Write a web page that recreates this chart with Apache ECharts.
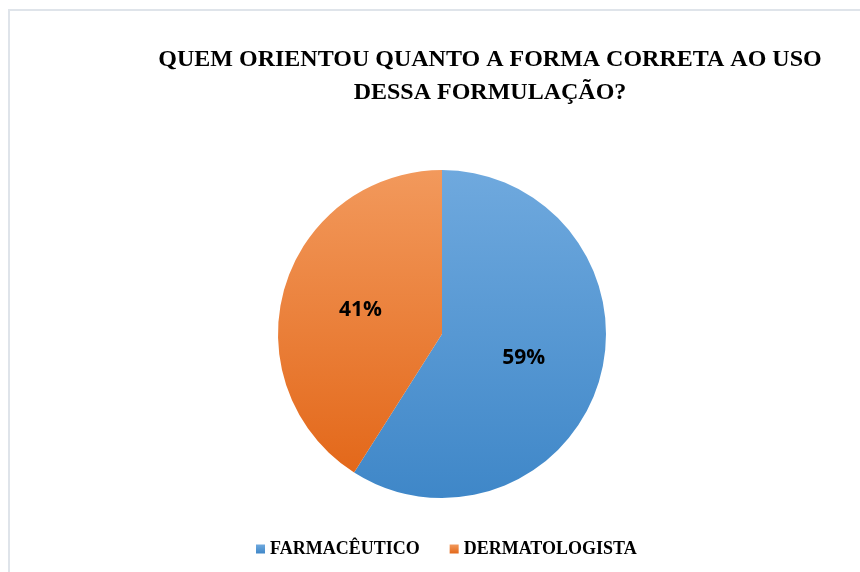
<!DOCTYPE html>
<html>
<head>
<meta charset="utf-8">
<script src="https://cdn.jsdelivr.net/npm/echarts@6/dist/echarts.min.js"></script>
<style>
  html, body { margin: 0; padding: 0; background: #fff; }
  #chart { position: absolute; left: 0; top: 0; width: 860px; height: 572px; }
  #frame { position: absolute; left: 8px; top: 9px; width: 860px; height: 572px;
           border-top: 2px solid #dfe4ea; border-left: 2px solid #dfe4ea; }
</style>
</head>
<body>
<div id="frame"></div>
<div id="chart"></div>
<script>
// dados do gráfico
const categorias = ['FARMACÊUTICO', 'DERMATOLOGISTA'];
const valores = [59, 41];
const titulo = 'QUEM ORIENTOU QUANTO A FORMA CORRETA AO USO\nDESSA FORMULAÇÃO?';

const cores = [
  { topo: '#6fa9de', base: '#3f87c8' },
  { topo: '#f2995c', base: '#e3681a' }
];

const chart = echarts.init(document.getElementById('chart'));

const option = {
  backgroundColor: 'transparent',
  title: {
    text: titulo,
    left: 485,
    top: 38,
    textAlign: 'center',
    textStyle: {
      fontFamily: 'Liberation Serif',
      fontWeight: 'bold',
      fontSize: 24,
      lineHeight: 33,
      color: '#000'
    }
  },
  legend: {
    bottom: 9,
    left: 251,
    itemWidth: 9,
    itemHeight: 9,
    itemGap: 30,
    icon: 'rect',
    textStyle: {
      fontFamily: 'Liberation Serif',
      fontWeight: 'bold',
      fontSize: 18,
      color: '#000'
    },
    data: categorias
  },
  series: [{
    type: 'pie',
    center: [442, 334],
    radius: 164,
    startAngle: 90,
    clockwise: true,
    label: {
      position: 'inside',
      formatter: '{d}%',
      fontFamily: 'Open Sans',
      fontWeight: 'bold',
      fontSize: 21,
      color: '#000'
    },
    labelLine: { show: false },
    emphasis: { disabled: true },
    data: categorias.map((nome, i) => ({
      name: nome,
      value: valores[i],
      itemStyle: {
        color: new echarts.graphic.LinearGradient(0, 0, 0, 1, [
          { offset: 0, color: cores[i].topo },
          { offset: 1, color: cores[i].base }
        ])
      }
    }))
  }]
};

chart.setOption(option);
</script>
</body>
</html>
